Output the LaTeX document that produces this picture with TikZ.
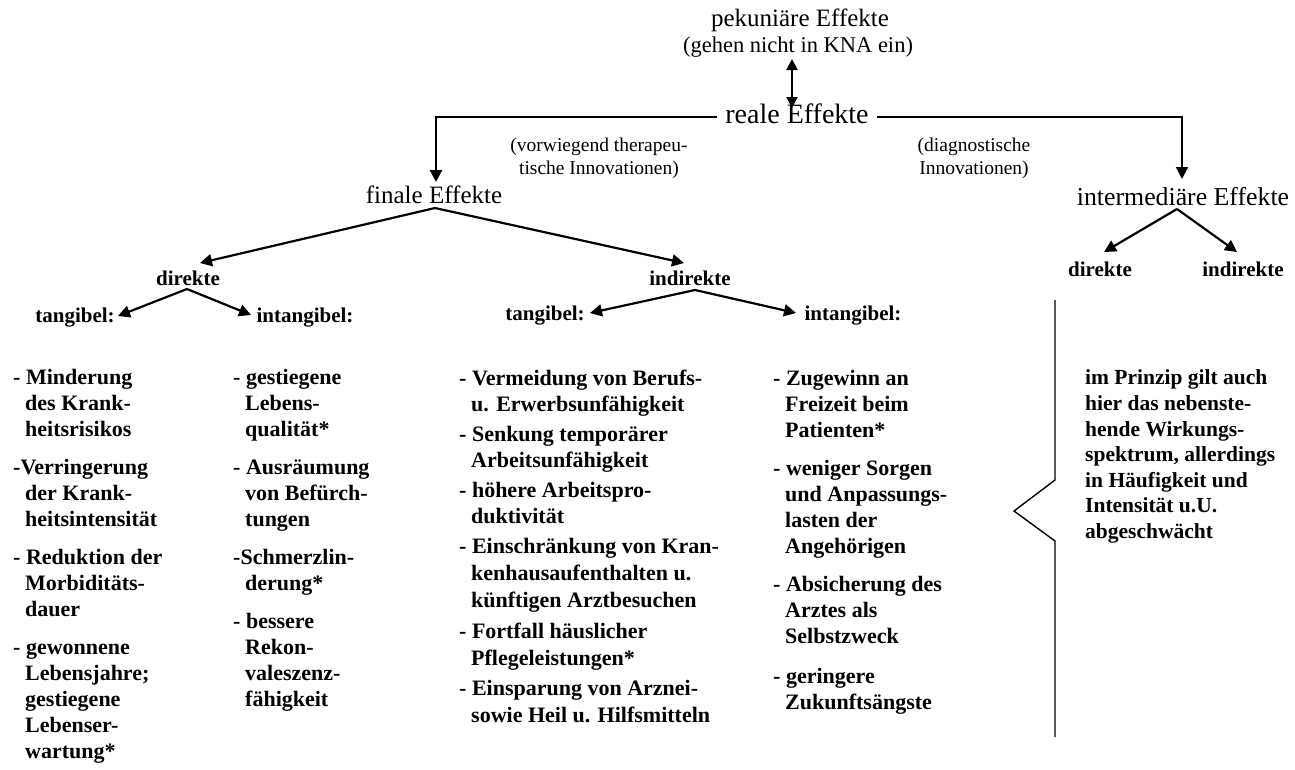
\documentclass[tikz,border=0pt]{standalone}
\usepackage{fontspec}
\setmainfont{Liberation Serif}
\usetikzlibrary{arrows.meta}
\newcommand\myind{\hspace*{12pt}}
\newcommand\fsz[1]{\fontsize{#1}{#1}\selectfont}
\tikzset{
  txt/.style={inner sep=0pt, anchor=base},
  note/.style={font=\fontsize{19.5}{23}\selectfont, align=center, inner sep=0pt},
  lvl/.style={font=\bfseries\fsz{21}, inner sep=0pt, anchor=base},
  lst/.style={font=\bfseries\fontsize{22}{26}\selectfont, inner sep=0pt, anchor=base west},
  tip/.style={-{Triangle[length=12pt,width=12pt]}},
  arr/.style={line width=2.2pt, tip},
  dbl/.style={line width=2.2pt, {Triangle[length=11pt,width=11pt]}-{Triangle[length=11pt,width=11pt]}},
  brace/.style={line width=1.4pt}
}
\begin{document}
\begin{tikzpicture}[x=1pt,y=-1pt]
\useasboundingbox (0,0) rectangle (1295,769);
% top
\node[txt, font=\fsz{25}] (pek) at (800,26) {pekuniäre Effekte};
\node[txt, font=\fsz{22.5}] (geh) at (798,52) {(gehen nicht in KNA ein)};
\node[txt, font=\fsz{28}, inner xsep=8pt] (real) at (797,123) {reale Effekte};
\coordinate (dt) at (792,59);
\coordinate (db) at (792,108);
\draw[dbl] (dt) -- (db);
% level 1
\node[txt, font=\fsz{25}] (fin) at (434,203) {finale Effekte};
\node[txt, font=\fsz{25.8}] (inter) at (1183,205) {intermediäre Effekte};
\coordinate (lc) at (436,117);
\coordinate (lt) at (436,182);
\coordinate (rc) at (1182,117);
\coordinate (rt) at (1182,179);
\draw[arr] (real.west |- lc) -- (lc) -- (lt);
\draw[arr] (real.east |- rc) -- (rc) -- (rt);
\node[note] (ther) at (599,158) {(vorwiegend therapeu-\\tische Innovationen)};
\node[note] (diag) at (974,158) {(diagnostische\\Innovationen)};
% finale -> direkte / indirekte
\node[lvl] (dir) at (188,285) {direkte};
\node[lvl] (indir) at (690,285) {indirekte};
\coordinate (fa) at (435,208);
\coordinate (fdl) at (200,263);
\coordinate (fdr) at (684,263);
\draw[arr] (fa) -- (fdl);
\draw[arr] (fa) -- (fdr);
% direkte -> tangibel / intangibel
\node[lvl] (t1) at (75,322) {tangibel:};
\node[lvl] (i1) at (305,322) {intangibel:};
\coordinate (da) at (187,289);
\coordinate (dl) at (118,316);
\coordinate (dr) at (251,315);
\draw[arr] (da) -- (dl);
\draw[arr] (da) -- (dr);
% indirekte -> tangibel / intangibel
\node[lvl] (t2) at (545,320) {tangibel:};
\node[lvl] (i2) at (853,320) {intangibel:};
\coordinate (ia) at (695,290);
\coordinate (il) at (590,313);
\coordinate (ir) at (796,313);
\draw[arr] (ia) -- (il);
\draw[arr] (ia) -- (ir);
% intermediaere
\node[lvl] (dir2) at (1100,276) {direkte};
\node[lvl] (indir2) at (1243,276) {indirekte};
\coordinate (ma) at (1177,209);
\coordinate (ml) at (1104,252);
\coordinate (mr) at (1237,252);
\draw[arr] (ma) -- (ml);
\draw[arr] (ma) -- (mr);
% brace
\coordinate (b1) at (1055,300);
\coordinate (b2) at (1055,480);
\coordinate (b3) at (1014,511);
\coordinate (b4) at (1055,541);
\coordinate (b5) at (1055,737);
\draw[brace] (b1) -- (b2) -- (b3) -- (b4) -- (b5);
% column 1
\foreach \yy/\tt [count=\i] in {
 384/{- Minderung}, 410/{\myind des Krank-}, 436/{\myind heitsrisikos},
 474/{-Verringerung}, 500/{\myind der Krank-}, 526/{\myind heitsintensität},
 564/{- Reduktion der}, 590/{\myind Morbiditäts-}, 616/{\myind dauer},
 654/{- gewonnene}, 680/{\myind Lebensjahre;}, 706/{\myind gestiegene}, 732/{\myind Lebenser-}, 758/{\myind wartung*}}
 {\node[lst] (ca\i) at (13,\yy) {\tt};}
% column 2
\foreach \yy/\tt [count=\i] in {
 384/{- gestiegene}, 410/{\myind Lebens-}, 436/{\myind qualität*},
 474/{- Ausräumung}, 500/{\myind von Befürch-}, 526/{\myind tungen},
 564/{-Schmerzlin-}, 590/{\myind derung*},
 628/{- bessere}, 654/{\myind Rekon-}, 680/{\myind valeszenz-}, 706/{\myind fähigkeit}}
 {\node[lst] (cb\i) at (233,\yy) {\tt};}
% column 3
\foreach \yy/\tt [count=\i] in {
 385/{- Vermeidung von Berufs-}, 411/{\myind u. Erwerbsunfähigkeit},
 441/{- Senkung temporärer}, 467/{\myind Arbeitsunfähigkeit},
 497/{- höhere Arbeitspro-}, 523/{\myind duktivität},
 553/{- Einschränkung von Kran-}, 580/{\myind kenhausaufenthalten u.}, 607/{\myind künftigen Arztbesuchen},
 638/{- Fortfall häuslicher}, 665/{\myind Pflegeleistungen*},
 695/{- Einsparung von Arznei-}, 722/{\myind sowie Heil u. Hilfsmitteln}}
 {\node[lst] (cc\i) at (459,\yy) {\tt};}
% column 4
\foreach \yy/\tt [count=\i] in {
 385/{- Zugewinn an}, 411/{\myind Freizeit beim}, 437/{\myind Patienten*},
 475/{- weniger Sorgen}, 501/{\myind und Anpassungs-}, 527/{\myind lasten der}, 553/{\myind Angehörigen},
 591/{- Absicherung des}, 617/{\myind Arztes als}, 643/{\myind Selbstzweck},
 683/{- geringere}, 709/{\myind Zukunftsängste}}
 {\node[lst] (cd\i) at (773,\yy) {\tt};}
% column 5
\foreach \yy/\tt [count=\i] in {
 384/{im Prinzip gilt auch}, 410/{hier das nebenste-}, 436/{hende Wirkungs-},
 461/{spektrum, allerdings}, 487/{in Häufigkeit und}, 512/{Intensität u.U.}, 538/{abgeschwächt}}
 {\node[lst, font=\bfseries\fsz{21.5}] (ce\i) at (1085,\yy) {\tt};}
\end{tikzpicture}
\end{document}
